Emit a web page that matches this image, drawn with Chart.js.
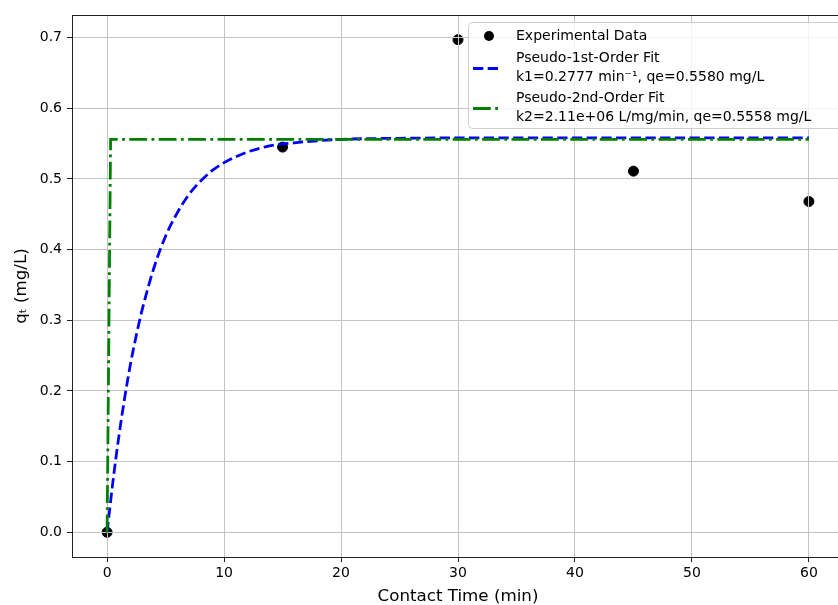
<!DOCTYPE html>
<html>
<head>
<meta charset="utf-8">
<script src="https://cdn.jsdelivr.net/npm/chart.js@4/dist/chart.umd.min.js"></script>
<style>
  body { margin: 0; overflow: hidden; background: #fff; }
  #wrap { width: 850px; height: 605px; }
</style>
</head>
<body>
<div id="wrap"><canvas id="myChart" width="850" height="605"></canvas></div>
<script>
// experimental points
var expTime = [0, 15, 30, 45, 60]
var expQ = [0.0, 0.545, 0.697, 0.511, 0.468]

// pseudo-1st-order curve
var pfoTime = [0, 0.5, 1, 1.5, 2, 2.5, 3, 4, 5, 6, 7, 8, 9, 10, 12, 14, 16, 18, 20, 25, 30, 40, 50, 60]
var pfoQ = [0.0, 0.072, 0.135, 0.190, 0.238, 0.279, 0.315, 0.374, 0.419, 0.452, 0.478, 0.497, 0.512, 0.523, 0.538, 0.547, 0.551, 0.554, 0.556, 0.5575, 0.558, 0.558, 0.558, 0.558]

// pseudo-2nd-order curve (jumps to plateau almost at once)
var psoTime = [0, 0.3, 60]
var psoQ = [0.0, 0.5558, 0.5558]

var xTicks = [0, 10, 20, 30, 40, 50, 60]
var yTicks = [0.0, 0.1, 0.2, 0.3, 0.4, 0.5, 0.6, 0.7]

var LW = 2.78
var dashPFO = [10.3, 4.4]
var dashPSO = [17.8, 4.4, 2.8, 4.4]

var legendItems = [
  { kind: 'dot', lines: ['Experimental Data'] },
  { kind: 'line', color: '#0000ff', dash: dashPFO, lines: ['Pseudo-1st-Order Fit', 'k1=0.2777 min\u207b\u00b9, qe=0.5580 mg/L'] },
  { kind: 'line', color: '#008000', dash: dashPSO, lines: ['Pseudo-2nd-Order Fit', 'k2=2.11e+06 L/mg/min, qe=0.5558 mg/L'] }
]

function toPoints(xs, ys) {
  return xs.map(function (x, i) { return { x: x, y: ys[i] } })
}

var FONT = 'DejaVu Sans'

// grid over the scatter dots but under the fit lines (like matplotlib)
var gridAgain = {
  id: 'gridAgain',
  beforeDatasetDraw: function (chart, args) {
    if (args.index === 1) {
      chart.scales.x.drawGrid(chart.chartArea)
      chart.scales.y.drawGrid(chart.chartArea)
    }
  }
}

// axes frame + legend box
var frameAndLegend = {
  id: 'frameAndLegend',
  afterDatasetsDraw: function (chart) {
    var ctx = chart.ctx
    var a = chart.chartArea
    ctx.save()
    ctx.strokeStyle = '#222'
    ctx.lineWidth = 1
    ctx.strokeRect(Math.round(a.left) + 0.5, Math.round(a.top) + 0.5, Math.round(a.right - a.left), Math.round(a.bottom - a.top))
    ctx.restore()
  },
  afterDraw: function (chart) {
    var ctx = chart.ctx
    ctx.save()
    var bx = 468.5, by = 22.5, bw = 374, bh = 106
    ctx.beginPath()
    ctx.roundRect(bx, by, bw, bh, 4)
    ctx.fillStyle = 'rgba(255,255,255,0.8)'
    ctx.fill()
    ctx.strokeStyle = '#d0d0d0'
    ctx.lineWidth = 1
    ctx.stroke()

    ctx.font = '14px ' + FONT
    ctx.fillStyle = '#000'
    ctx.textBaseline = 'middle'
    ctx.textAlign = 'left'
    var textX = 516
    var rows = [[36], [58.5, 77], [98.5, 117]]
    var markY = [36, 68.5, 108.5]
    legendItems.forEach(function (item, i) {
      if (item.kind === 'dot') {
        ctx.beginPath()
        ctx.arc(489, markY[i], 5, 0, Math.PI * 2)
        ctx.fillStyle = '#000'
        ctx.fill()
      } else {
        ctx.beginPath()
        ctx.setLineDash(item.dash)
        ctx.strokeStyle = item.color
        ctx.lineWidth = LW
        ctx.moveTo(473, markY[i])
        ctx.lineTo(501, markY[i])
        ctx.stroke()
        ctx.setLineDash([])
      }
      ctx.fillStyle = '#000'
      item.lines.forEach(function (t, j) {
        ctx.fillText(t, textX, rows[i][j])
      })
    })
    ctx.restore()
  }
}

var ctx = document.getElementById('myChart').getContext('2d')
var chart = new Chart(ctx, {
  type: 'scatter',
  data: {
    datasets: [{
      label: 'Experimental Data',
      data: toPoints(expTime, expQ),
      backgroundColor: '#000',
      borderColor: '#000',
      pointRadius: 5,
      pointHoverRadius: 5,
      order: 3
    }, {
      label: 'Pseudo-1st-Order Fit',
      type: 'line',
      data: toPoints(pfoTime, pfoQ),
      borderColor: '#0000ff',
      borderWidth: LW,
      borderDash: dashPFO,
      pointRadius: 0,
      fill: false,
      cubicInterpolationMode: 'monotone',
      order: 2
    }, {
      label: 'Pseudo-2nd-Order Fit',
      type: 'line',
      data: toPoints(psoTime, psoQ),
      borderColor: '#008000',
      borderWidth: LW,
      borderDash: dashPSO,
      pointRadius: 0,
      fill: false,
      tension: 0,
      order: 1
    }]
  },
  options: {
    responsive: false,
    animation: false,
    devicePixelRatio: 1,
    layout: { padding: { left: 0, right: 3, top: 15, bottom: 0 } },
    plugins: {
      legend: { display: false },
      tooltip: { enabled: false }
    },
    scales: {
      x: {
        type: 'linear',
        min: -3,
        max: 63,
        afterBuildTicks: function (scale) {
          scale.ticks = xTicks.map(function (v) { return { value: v } })
        },
        afterFit: function (scale) { scale.height = 48 },
        grid: { color: '#c4c4c4', lineWidth: 1, tickColor: '#222', tickLength: 5 },
        border: { display: false },
        ticks: {
          font: { family: FONT, size: 14 },
          color: '#000',
          padding: 3,
          maxRotation: 0,
          callback: function (v) { return String(v) }
        },
        title: {
          display: true,
          text: 'Contact Time (min)',
          font: { family: FONT, size: 16.7, lineHeight: 1 },
          color: '#000',
          padding: { top: 0, bottom: 0 }
        }
      },
      y: {
        type: 'linear',
        min: -0.0349,
        max: 0.7319,
        afterBuildTicks: function (scale) {
          scale.ticks = yTicks.map(function (v) { return { value: v } })
        },
        afterFit: function (scale) { scale.width = 72 },
        grid: { color: '#c4c4c4', lineWidth: 1, tickColor: '#222', tickLength: 5 },
        border: { display: false },
        ticks: {
          font: { family: FONT, size: 14 },
          color: '#000',
          padding: 5,
          callback: function (v) { return v.toFixed(1) }
        },
        title: {
          display: true,
          text: 'q\u209c (mg/L)',
          font: { family: FONT, size: 16.7, lineHeight: 1 },
          color: '#000',
          padding: { top: 13, bottom: 0 }
        }
      }
    }
  },
  plugins: [gridAgain, frameAndLegend]
})
</script>
</body>
</html>
